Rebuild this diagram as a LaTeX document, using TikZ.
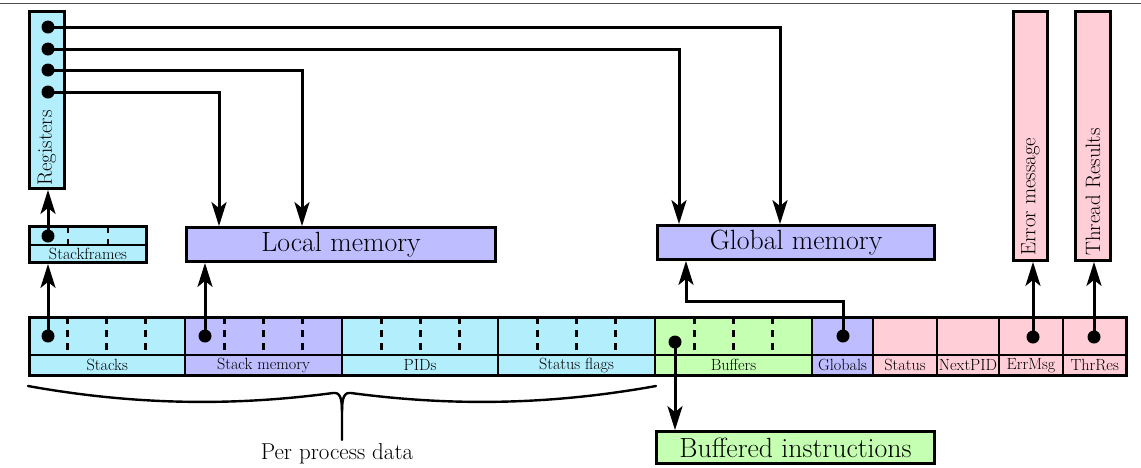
\documentclass[tikz,border=0pt]{standalone}
\usetikzlibrary{arrows.meta}

\definecolor{regcyan}{RGB}{179,238,252}
\definecolor{mempurple}{RGB}{189,189,255}
\definecolor{bufgreen}{RGB}{197,255,178}
\definecolor{outpink}{RGB}{255,206,214}

\tikzset{
  box/.style={draw=black, line width=2.8pt, inner sep=0pt},
  bigbox/.style={box, font=\fontsize{27.8}{32}\selectfont},
  cell/.style={box, minimum height=37.5pt},
  smalltext/.style={font=\fontsize{16.2}{19}\selectfont},
  celllabel/.style={box, smalltext, minimum height=20.5pt},
  sep/.style={line width=2.8pt, dash pattern=on 7pt off 6pt},
  wire/.style={line width=3pt},
  arrow/.style={wire, -{Stealth[length=24pt,width=15pt,inset=6pt]}},
  dot/.style={circle, fill=black, inner sep=0pt, minimum size=13pt},
  vlabel/.style={rotate=90, anchor=west, inner sep=0pt, font=\fontsize{20.8}{24}\selectfont},
  bracestroke/.style={line width=2.4pt, line cap=round},
}

% one memory cell of the process table: #1 left, #2 right, #3 colour, #4 name, #5 label
\newcommand\memcell[5]{%
  \node[cell, fill=#3, minimum width={#2-#1}] (#4) at ({(#1+#2)/2},336.25) {};
  \node[celllabel, fill=#3, minimum width={#2-#1}] (#4-l) at ({(#1+#2)/2},365.25) {#5};
}

\begin{document}
\begin{tikzpicture}[x=1pt,y=-1pt]
\useasboundingbox (0,0) rectangle (1141,467);

% rule along the top
\coordinate (ruleL) at (0,3);
\coordinate (ruleR) at (1141,3);
\draw[black!70, line width=0.8pt] (ruleL) -- (ruleR);

% register file
\node[box, fill=regcyan, minimum width=35pt, minimum height=177pt] (reg) at (47,100) {};
\node[vlabel] (reglabel) at ([yshift=4pt]reg.south) {Registers};

% stack frames
\node[box, fill=regcyan, minimum width=117pt, minimum height=18.5pt] (sf) at (88,235.75) {};
\node[box, smalltext, fill=regcyan, minimum width=117pt, minimum height=17.5pt] (sf-l) at (88,253.75) {Stackframes};
\foreach \x in {68,108} \draw[sep, dash pattern=on 6pt off 6pt] (\x,226.5) -- (\x,245);

% memories
\node[bigbox, fill=mempurple, minimum width=309pt, minimum height=34pt] (lm) at (341,244.5) {Local memory};
\node[bigbox, fill=mempurple, minimum width=277pt, minimum height=34pt] (gm) at (796,242.5) {Global memory};
\node[bigbox, fill=bufgreen, minimum width=278pt, minimum height=32pt] (bi) at (795.5,447.5) {Buffered instructions};

% output channels
\node[box, fill=outpink, minimum width=34pt, minimum height=249pt] (err) at (1030.5,136) {};
\node[vlabel] (errlabel) at ([yshift=6pt]err.south) {Error message};
\node[box, fill=outpink, minimum width=35pt, minimum height=249pt] (thr) at (1093,136) {};
\node[vlabel] (thrlabel) at ([yshift=6pt]thr.south) {Thread Results};

% process table
\memcell{29.5}{185}{regcyan}{stacks}{Stacks}
\memcell{185}{342}{mempurple}{stackmem}{Stack memory}
\memcell{342}{498}{regcyan}{pids}{PIDs}
\memcell{498}{655}{regcyan}{flags}{Status flags}
\memcell{655}{812}{bufgreen}{buffers}{Buffers}
\memcell{812}{873}{mempurple}{globals}{Globals}
\memcell{873}{937}{outpink}{status}{Status}
\memcell{937}{999}{outpink}{nextpid}{NextPID}
\memcell{999}{1063}{outpink}{errmsg}{ErrMsg}
\memcell{1063}{1126.5}{outpink}{thrres}{ThrRes}

\foreach \L in {28,185,342,498,655}
  \foreach \k in {1,2,3}
    \draw[sep] ({\L+\k*39.25},317) -- ({\L+\k*39.25},355);

% pointers held in the registers
\node[dot] (r1) at (48,27) {};
\node[dot] (r2) at (48,49) {};
\node[dot] (r3) at (48,70) {};
\node[dot] (r4) at (48,92) {};
\draw[arrow] (r1.center) -| ([xshift=-16pt]gm.north);
\draw[arrow] (r2.center) -| ([xshift=-117pt]gm.north);
\draw[arrow] (r3.center) -| ([xshift=-39pt]lm.north);
\draw[arrow] (r4.center) -| ([xshift=-122pt]lm.north);

% pointers held in the tables
\node[dot] (sfdot) at (48,236) {};
\node[dot] (stdot) at (48,336) {};
\node[dot] (smdot) at (205,336) {};
\node[dot] (bfdot) at (675,342) {};
\node[dot] (gldot) at (843,336) {};
\node[dot] (emdot) at (1033,337) {};
\node[dot] (trdot) at (1094,337) {};
\coordinate (glbend) at (843,301);

\draw[arrow] (sfdot.center) -- (sfdot.center |- reg.south);
\draw[arrow] (stdot.center) -- (stdot.center |- sf-l.south);
\draw[arrow] (smdot.center) -- (smdot.center |- lm.south);
\draw[arrow] (gldot.center) -- (glbend) -| ([xshift=-110pt]gm.south);
\draw[arrow] (emdot.center) -- (emdot.center |- err.south);
\draw[arrow] (trdot.center) -- (trdot.center |- thr.south);
\draw[arrow] (bfdot.center) -- (bfdot.center |- bi.north);

% brace under the per-process part
\coordinate (braceL) at (28,386);
\coordinate (braceR) at (656,386);
\coordinate (braceTip) at (342,440);
\draw[bracestroke] (braceL) .. controls (150,408) and (250,404) .. (333,393)
  .. controls (340,392) and (342,398) .. (342,412) -- (braceTip);
\draw[bracestroke] (braceR) .. controls (534,408) and (434,404) .. (351,393)
  .. controls (344,392) and (342,398) .. (342,412);
\node[anchor=base, inner sep=0pt, font=\fontsize{23}{27}\selectfont] (ppd) at (337,459) {Per process data};
\end{tikzpicture}
\end{document}
